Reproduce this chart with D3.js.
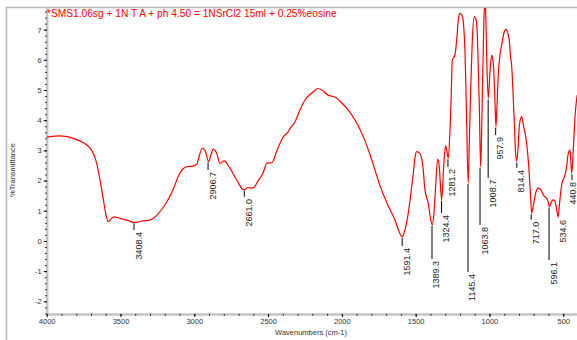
<!DOCTYPE html>
<meta charset="utf-8">

<script src="https://d3js.org/d3.v7.min.js"></script>
<style>
  body { margin: 0; background: #fff; }
  text { font-family: Arial, "Liberation Sans", sans-serif; }
</style>

<div id="my_dataviz"></div>

<script>

// spectrum (wavenumber cm-1, %T)
var wavenumbers = [4000,3910,3808,3707,3659,3639,3619,3598,3583,3564,
  3544,3503,3449,3407,3354,3300,3246,3199,3151,3097,
  3050,3009,2982,2968,2946,2928,2903,2887,2871,2848,
  2826,2799,2758,2713,2663,2636,2602,2568,2535,2507,
  2474,2446,2419,2392,2371,2345,2317,2284,2250,2203,
  2162,2135,2094,2047,2000,1946,1892,1845,1797,1743,
  1689,1641,1614,1591,1573,1550,1532,1516,1505,1493,
  1471,1450,1437,1415,1400,1388,1376,1366,1351,1340,
  1324,1310,1297,1286,1279,1268,1259,1252,1234,1222,
  1211,1200,1182,1173,1166,1156,1144,1136,1126,1116,
  1103,1090,1081,1076,1068,1060,1054,1049,1042,1035,
  1028,1024,1017,1008,997,985,979,972,963,956,
  950,941,929,917,902,888,874,866,858,849,
  841,831,824,816,807,797,782,770,748,732,
  722,714,702,685,669,651,631,613,600,595,
  583,570,556,546,534,526,511,502,488,478,
  466,454,443,432,420,406];

var transmittance = [3.44,3.48,3.38,3.08,2.52,2.02,1.46,0.86,0.64,0.73,
  0.80,0.75,0.68,0.61,0.66,0.69,0.89,1.19,1.62,2.25,
  2.46,2.48,2.55,2.79,3.07,3.01,2.63,2.85,3.04,2.90,
  2.57,2.65,2.41,2.02,1.69,1.77,1.75,1.99,2.24,2.58,
  2.59,2.91,3.24,3.48,3.57,3.77,3.95,4.34,4.67,4.90,
  5.05,5.00,4.83,4.77,4.57,4.27,3.84,3.34,2.68,1.85,
  1.19,0.70,0.33,0.14,0.36,0.92,1.59,2.24,2.75,2.96,
  2.90,2.42,1.69,1.25,0.76,0.53,0.93,1.69,2.71,2.46,
  1.36,2.46,3.16,2.90,2.74,3.57,4.83,5.99,6.16,6.66,
  7.32,7.54,7.43,6.99,6.32,4.34,1.92,3.34,5.22,6.66,
  7.43,7.32,6.66,5.77,4.34,2.46,3.34,4.67,6.32,7.65,
  7.88,7.32,5.77,4.72,5.55,6.16,6.06,5.77,4.67,3.78,
  4.34,5.44,6.16,6.49,6.89,7.01,6.85,6.66,6.16,5.77,
  5.00,3.84,3.01,2.63,3.01,3.84,4.12,3.84,3.24,2.35,
  1.52,0.92,1.19,1.62,1.75,1.69,1.49,1.42,1.26,1.14,
  1.26,1.36,1.32,1.09,0.80,1.19,1.85,2.02,2.19,2.42,
  2.90,3.01,2.24,3.01,4.12,4.83];

// peak picks: position, curve value, where the marker ends (%T)
var peakWavenumbers = [3408.4,2906.7,2661.0,1591.4,1389.3,1324.4,1281.2,1145.4,1063.8,1008.7,957.9,814.4,717.0,596.1,534.6,440.8];
var peakLabels = ["3408.4","2906.7","2661.0","1591.4","1389.3","1324.4","1281.2","1145.4","1063.8","1008.7","957.9","814.4","717.0","596.1","534.6","440.8"];
var peakValues = [0.61,2.63,1.69,0.14,0.53,1.36,2.74,1.92,2.46,4.72,3.78,2.63,0.92,1.14,0.80,2.24];
var peakEnds = [0.36,2.35,1.46,-0.17,-0.60,0.93,2.45,-1.03,0.53,2.09,3.51,2.42,0.70,-0.63,0.76,2.02];

var xTicks = [4000,3500,3000,2500,2000,1500,1000,500];
var yTicks = [-2,-1,0,1,2,3,4,5,6,7];
var title = "*SMS1.06sg + 1N T A + ph 4.50 = 1NSrCl2 15ml + 0.25%eosine";


var width = 577, height = 340;
var plot = {left: 46.7, right: 578, top: 7, bottom: 314};

var svg = d3.select("#my_dataviz")
  .append("svg")
    .attr("width", width)
    .attr("height", height);

var x = d3.scaleLinear()
  .domain([4000, 400])
  .range([plot.left, plot.right]);

var y = d3.scaleLinear()
  .domain([-2.42, 7.75])
  .range([plot.bottom, plot.top]);

// outer frame
svg.append("rect")
  .attr("x", 6.5)
  .attr("y", 7.5)
  .attr("width", 700)
  .attr("height", 500)
  .attr("fill", "none")
  .attr("stroke", "#b8b8b0")
  .attr("stroke-width", 1.5);

svg.append("clipPath").attr("id", "clip")
  .append("rect")
    .attr("x", plot.left)
    .attr("y", plot.top + 1)
    .attr("width", plot.right - plot.left)
    .attr("height", plot.bottom - plot.top);

// minor ticks
svg.append("g")
  .attr("transform", "translate(" + plot.left + ",0)")
  .call(d3.axisLeft(y).tickValues(d3.range(-2.4, 7.7, 0.2)).tickSize(1.5).tickSizeOuter(0).tickFormat(""))
  .call(function(g) { g.select(".domain").attr("stroke", "#c4c4c4").attr("stroke-width", 2.5); });

svg.append("g")
  .attr("transform", "translate(0," + plot.bottom + ")")
  .call(d3.axisBottom(x).tickValues(d3.range(4000, 399, -100)).tickSize(1.5).tickSizeOuter(0).tickFormat(""))
  .call(function(g) { g.select(".domain").attr("stroke", "#c4c4c4").attr("stroke-width", 2.5); });

// major ticks + labels
var yAxis = svg.append("g")
  .attr("transform", "translate(" + plot.left + ",0)")
  .call(d3.axisLeft(y).tickValues(yTicks).tickSize(3).tickSizeOuter(0).tickPadding(2)
    .tickFormat(function(d) { return String(d); }));
yAxis.select(".domain").remove();
yAxis.selectAll("text").style("font-size", "7.5px").attr("fill", "#333");

var xAxis = svg.append("g")
  .attr("transform", "translate(0," + plot.bottom + ")")
  .call(d3.axisBottom(x).tickValues(xTicks).tickSize(3).tickSizeOuter(0).tickPadding(2)
    .tickFormat(function(d) { return String(d); }));
xAxis.select(".domain").remove();
xAxis.selectAll("text").style("font-size", "7.5px").attr("fill", "#333");

svg.append("text")
  .attr("x", 311)
  .attr("y", 335)
  .attr("text-anchor", "middle")
  .style("font-size", "7.5px")
  .attr("fill", "#333")
  .text("Wavenumbers (cm-1)");

svg.append("text")
  .attr("transform", "translate(15,170) rotate(-90)")
  .attr("text-anchor", "middle")
  .style("font-size", "7.5px")
  .attr("fill", "#333")
  .text("%Transmittance");

// the spectrum
var spectrum = d3.zip(wavenumbers, transmittance);

var line = d3.line()
  .x(function(d) { return x(d[0]); })
  .y(function(d) { return y(d[1]); })
  .curve(d3.curveMonotoneX);

svg.append("path")
  .datum(spectrum)
  .attr("clip-path", "url(#clip)")
  .attr("fill", "none")
  .attr("stroke", "#ff0000")
  .attr("stroke-width", 1.2)
  .attr("d", line);

// peak markers
var peaks = peakWavenumbers.map(function(w, i) {
  return {w: w, label: peakLabels[i], v: peakValues[i], end: peakEnds[i]};
});

var pk = svg.append("g").selectAll("g")
  .data(peaks)
  .enter()
  .append("g");

pk.append("line")
  .attr("x1", function(d) { return x(d.w); })
  .attr("x2", function(d) { return x(d.w); })
  .attr("y1", function(d) { return y(d.v) + 1; })
  .attr("y2", function(d) { return y(d.end); })
  .attr("stroke", "#000")
  .attr("stroke-width", 1);

// labels near the right edge get pulled back inside
pk.append("text")
  .attr("transform", function(d) {
    var tx = Math.min(x(d.w) + 7.5, width - 1.5);
    return "translate(" + tx + "," + (y(d.end) + 2) + ") rotate(-90)";
  })
  .attr("text-anchor", "end")
  .style("font-size", "9px")
  .attr("fill", "#222")
  .text(function(d) { return d.label; });

svg.append("text")
  .attr("x", 47)
  .attr("y", 17)
  .style("font-size", "10.2px")
  .attr("fill", "#ff0000")
  .text(title);

</script>
